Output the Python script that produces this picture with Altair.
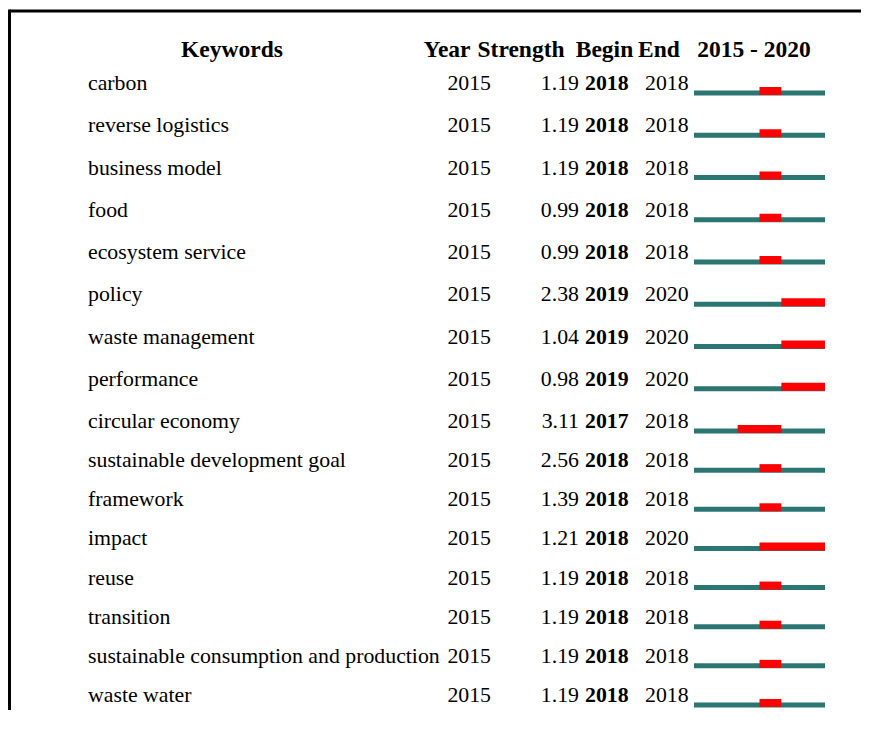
import altair as alt
import pandas as pd

# ---- data ----
keywords = [
    "carbon", "reverse logistics", "business model", "food", "ecosystem service",
    "policy", "waste management", "performance", "circular economy",
    "sustainable development goal", "framework", "impact", "reuse", "transition",
    "sustainable consumption and production", "waste water",
]
years = [2015, 2015, 2015, 2015, 2015, 2015, 2015, 2015,
         2015, 2015, 2015, 2015, 2015, 2015, 2015, 2015]
strengths = [1.19, 1.19, 1.19, 0.99, 0.99, 2.38, 1.04, 0.98,
             3.11, 2.56, 1.39, 1.21, 1.19, 1.19, 1.19, 1.19]
begins = [2018, 2018, 2018, 2018, 2018, 2019, 2019, 2019,
          2017, 2018, 2018, 2018, 2018, 2018, 2018, 2018]
ends = [2018, 2018, 2018, 2018, 2018, 2020, 2020, 2020,
        2018, 2018, 2018, 2020, 2018, 2018, 2018, 2018]
period_start = 2015
period_end = 2020

headers = ["Keywords", "Year", "Strength", "Begin", "End", "2015 - 2020"]

df = pd.DataFrame({
    "row": list(range(len(keywords))),
    "keyword": keywords,
    "year": years,
    "strength": strengths,
    "begin": begins,
    "end": ends,
})
df["strength_s"] = df["strength"].map(lambda v: f"{v:.2f}")
df["year_s"] = df["year"].astype(str)
df["begin_s"] = df["begin"].astype(str)
df["end_s"] = df["end"].astype(str)
df["p0"] = period_start
df["p1"] = period_end

FONT = "Liberation Serif"
TEAL = "#2B7672"
RED = "#FF0000"
W, H = 855, 704

yscale = alt.Scale(domain=[0, 8, 15], range=[82, 420, 694], zero=False, nice=False)
xscale = alt.Scale(domain=[period_start, period_end + 1], range=[686, 817], zero=False, nice=False)

base = alt.Chart(df)
Y = alt.Y("row:Q", scale=yscale, axis=None)

def col_text(field, x, align, bold=False):
    return base.mark_text(
        align=align, baseline="alphabetic", font=FONT, fontSize=21.8,
        fontWeight="bold" if bold else "normal", color="black",
    ).encode(x=alt.value(x), y=Y, text=f"{field}:N")

kw = col_text("keyword", 80, "left")
yr = col_text("year_s", 483, "right")
st = col_text("strength_s", 571, "right")
bg = col_text("begin_s", 577, "left", bold=True)
en = col_text("end_s", 637, "left")

timeline = base.transform_calculate(p1e="datum.p1 + 1").mark_rule(
    color=TEAL, strokeWidth=5, yOffset=3, strokeCap="butt"
).encode(
    x=alt.X("p0:Q", scale=xscale, axis=None),
    x2="p1e:Q",
    y=Y,
)
burst = base.transform_calculate(e1="datum.end + 1").mark_rule(
    color=RED, strokeWidth=8, yOffset=1, strokeCap="butt"
).encode(
    x=alt.X("begin:Q", scale=xscale, axis=None),
    x2="e1:Q",
    y=Y,
)

one = pd.DataFrame({"k": [0]})
hdr_style = [(224, 23.5), (439, 23.5), (513, 23.5), (596.5, 23.5), (651, 23.5), (746, 23.5)]
hdr_layers = []
for label, (hx, hs) in zip(headers, hdr_style):
    hdr_layers.append(
        alt.Chart(one).mark_text(
            text=label, align="center", baseline="alphabetic", font=FONT,
            fontSize=hs, fontWeight="bold", color="black",
        ).encode(x=alt.value(hx), y=alt.value(49))
    )

border_top = alt.Chart(one).mark_rule(color="black", strokeWidth=3, strokeCap="butt").encode(
    x=alt.value(1.5), x2=alt.value(W - 2), y=alt.value(3)
)
border_left = alt.Chart(one).mark_rule(color="black", strokeWidth=3, strokeCap="butt").encode(
    x=alt.value(1.5), y=alt.value(1.5), y2=alt.value(H - 2)
)

chart = alt.layer(
    border_top, border_left, *hdr_layers, kw, yr, st, bg, en, timeline, burst
).properties(width=W, height=H, padding=0).configure_view(strokeWidth=0)

chart.save("out.html", embed_options={"renderer": "svg", "actions": False})
